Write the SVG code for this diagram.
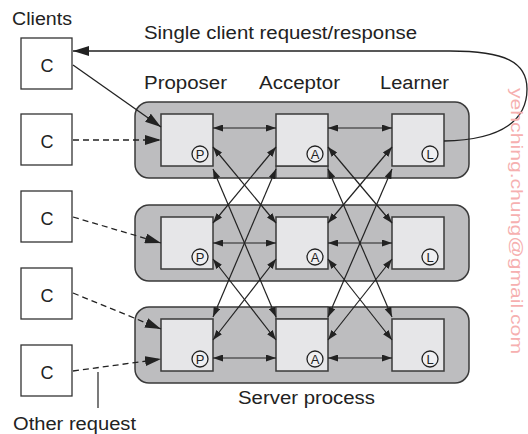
<svg xmlns="http://www.w3.org/2000/svg" width="528" height="434" viewBox="0 0 528 434">
<style>
text{font-family:"Liberation Sans",Arial,sans-serif;fill:#222}
.lbl{font-size:18px}
.c{font-size:18px;text-anchor:middle}
.row{fill:#bdbdbf;stroke:#3a3a3a;stroke-width:1.5}
.box{fill:#e6e6e8;stroke:#3a3a3a;stroke-width:1.5}
.cli{fill:#fff;stroke:#333;stroke-width:1.3}
.strip{fill:#c3c3c5;stroke:#3a3a3a;stroke-width:1.2}
.tag{fill:#f0f0f2;stroke:#222;stroke-width:1.3}
.tagt{font-size:13px;text-anchor:middle}
.ln{stroke:#222;stroke-width:1.2;fill:none;marker-start:url(#ah);marker-end:url(#ah)}
.cl{stroke:#222;stroke-width:1.3;fill:none;marker-end:url(#ahb)}
.dash{stroke-dasharray:6 4}
</style>
<defs>
<marker id="ah" viewBox="0 0 10 7" refX="10" refY="3.5" markerWidth="10" markerHeight="7" markerUnits="userSpaceOnUse" orient="auto-start-reverse"><path d="M0,0 L10,3.5 L0,7 z" fill="#222"/></marker>
<marker id="ahb" viewBox="0 0 16 10" refX="16" refY="5" markerWidth="16" markerHeight="10" markerUnits="userSpaceOnUse" orient="auto"><path d="M0,0 L16,5 L0,10 z" fill="#222"/></marker>
</defs>

<text class="lbl" x="12" y="25" textLength="60" lengthAdjust="spacingAndGlyphs">Clients</text>
<text class="lbl" x="144" y="39" textLength="273" lengthAdjust="spacingAndGlyphs">Single client request/response</text>
<text class="lbl" x="144" y="89" textLength="83" lengthAdjust="spacingAndGlyphs">Proposer</text>
<text class="lbl" x="259" y="89" textLength="81" lengthAdjust="spacingAndGlyphs">Acceptor</text>
<text class="lbl" x="380" y="89" textLength="69" lengthAdjust="spacingAndGlyphs">Learner</text>
<text class="lbl" x="238" y="404" textLength="137" lengthAdjust="spacingAndGlyphs">Server process</text>
<text class="lbl" x="13" y="430" textLength="123" lengthAdjust="spacingAndGlyphs">Other request</text>

<g id="server1"><rect class="row" x="135" y="102" width="334" height="76" rx="14"/></g>
<g id="server2"><rect class="row" x="135" y="205" width="334" height="76" rx="14"/></g>
<g id="server3"><rect class="row" x="135" y="307" width="334" height="76" rx="14"/></g>

<rect class="strip" x="276" y="166" width="52" height="12"/>
<rect class="strip" x="276" y="307" width="52" height="12"/>

<g id="P1"><rect class="box" x="161" y="114" width="52" height="52"/><circle class="tag" cx="200" cy="154" r="8"/><text class="tagt" x="200" y="158.7">P</text></g>
<g id="A1"><rect class="box" x="276" y="114" width="52" height="52"/><circle class="tag" cx="315" cy="154" r="8"/><text class="tagt" x="315" y="158.7">A</text></g>
<g id="L1"><rect class="box" x="392" y="114" width="52" height="52"/><circle class="tag" cx="430" cy="154" r="8"/><text class="tagt" x="430" y="158.7">L</text></g>
<g id="P2"><rect class="box" x="161" y="217" width="52" height="52"/><circle class="tag" cx="200" cy="257" r="8"/><text class="tagt" x="200" y="261.7">P</text></g>
<g id="A2"><rect class="box" x="276" y="217" width="52" height="52"/><circle class="tag" cx="315" cy="257" r="8"/><text class="tagt" x="315" y="261.7">A</text></g>
<g id="L2"><rect class="box" x="392" y="217" width="52" height="52"/><circle class="tag" cx="430" cy="257" r="8"/><text class="tagt" x="430" y="261.7">L</text></g>
<g id="P3"><rect class="box" x="161" y="319" width="52" height="52"/><circle class="tag" cx="200" cy="359" r="8"/><text class="tagt" x="200" y="363.7">P</text></g>
<g id="A3"><rect class="box" x="276" y="319" width="52" height="52"/><circle class="tag" cx="315" cy="359" r="8"/><text class="tagt" x="315" y="363.7">A</text></g>
<g id="L3"><rect class="box" x="392" y="319" width="52" height="52"/><circle class="tag" cx="430" cy="359" r="8"/><text class="tagt" x="430" y="363.7">L</text></g>

<g id="C1"><rect class="cli" x="21" y="38" width="51" height="51"/><text class="c" x="47" y="72">C</text></g>
<g id="C2"><rect class="cli" x="21" y="114" width="51" height="51"/><text class="c" x="47" y="148">C</text></g>
<g id="C3"><rect class="cli" x="21" y="191" width="51" height="51"/><text class="c" x="47" y="225">C</text></g>
<g id="C4"><rect class="cli" x="21" y="268" width="51" height="51"/><text class="c" x="47" y="302">C</text></g>
<g id="C5"><rect class="cli" x="21" y="345" width="51" height="51"/><text class="c" x="47" y="379">C</text></g>

<g id="connectors">
<line class="ln" x1="213" y1="128" x2="276" y2="128"/>
<line class="ln" x1="328" y1="128" x2="392" y2="128"/>
<line class="ln" x1="213" y1="243" x2="276" y2="243"/>
<line class="ln" x1="328" y1="243" x2="392" y2="243"/>
<line class="ln" x1="213" y1="358" x2="276" y2="358"/>
<line class="ln" x1="328" y1="358" x2="392" y2="358"/>

<line class="ln" x1="213" y1="147" x2="276" y2="223"/>
<line class="ln" x1="213" y1="169" x2="276" y2="317"/>
<line class="ln" x1="213" y1="223" x2="276" y2="147"/>
<line class="ln" x1="213" y1="259" x2="276" y2="340"/>
<line class="ln" x1="213" y1="340" x2="276" y2="259"/>
<line class="ln" x1="213" y1="317" x2="276" y2="169"/>

<line class="ln" x1="328" y1="147" x2="392" y2="223"/>
<line class="ln" x1="328" y1="169" x2="392" y2="317"/>
<line class="ln" x1="328" y1="223" x2="392" y2="147"/>
<line class="ln" x1="328" y1="259" x2="392" y2="340"/>
<line class="ln" x1="328" y1="340" x2="392" y2="259"/>
<line class="ln" x1="328" y1="317" x2="392" y2="169"/>

<path class="cl" d="M444,141 C505,140 527,118 527,89 C527,62 505,51 450,51 L73,51"/>
<line class="cl" x1="73" y1="65" x2="161" y2="127"/>
<line class="cl dash" x1="73" y1="140" x2="161" y2="140"/>
<line class="cl dash" x1="73" y1="217" x2="161" y2="243"/>
<line class="cl dash" x1="73" y1="293" x2="161" y2="329"/>
<line class="cl dash" x1="73" y1="371" x2="161" y2="359"/>
<line x1="98" y1="372" x2="98" y2="408" stroke="#222" stroke-width="1.2"/>
</g>

<text x="511" y="88" transform="rotate(90 511 88)" style="font-size:16px;fill:#f6b0b0" textLength="266" lengthAdjust="spacingAndGlyphs">yehching.chung@gmail.com</text>
</svg>
